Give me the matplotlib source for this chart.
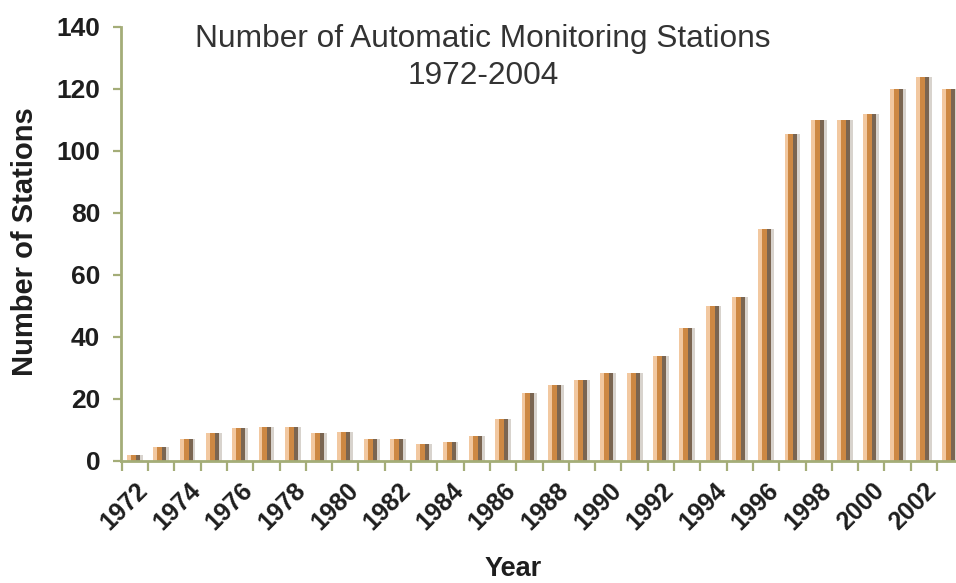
import numpy as np
import matplotlib
matplotlib.use("Agg")
import matplotlib.pyplot as plt
import matplotlib.transforms as mtransforms

plt.rcParams['font.family'] = ['Liberation Sans', 'DejaVu Sans']

# Data
years = np.arange(1972, 2004)
stations = [2, 4.5, 7, 9, 10.5, 11, 11, 9, 9.5, 7, 7, 5.5, 6, 8, 13.5,
            22, 24.5, 26, 28.5, 28.5, 34, 43, 50, 53, 75,
            105.5, 110, 110, 112, 120, 124, 120]
label_years = np.arange(1972, 2004, 2)

spine_col = '#a4ad78'

fig = plt.figure(figsize=(9.56, 5.83), dpi=100)
ax = fig.add_axes([121 / 956, 122 / 583, 835 / 956, 434 / 583])

# each bar is built from thin strips to mimic the shaded look
strips = [(-0.30, 0.15, '#f2c8a0'),
          (-0.15, 0.19, '#cd8843'),
          (0.04, 0.15, '#7a6551'),
          (0.19, 0.11, '#d8d3cd')]
for off, w, col in strips:
    ax.bar(years + off, stations, width=w, align='edge', color=col,
           linewidth=0, zorder=2)

ax.set_xlim(1971.47, 2003.22)
ax.set_ylim(0, 140)
ax.set_yticks(np.arange(0, 141, 20))

ax.set_xticks(label_years)
ax.set_xticklabels([str(y) for y in label_years], rotation=45,
                   ha='right', va='center', rotation_mode='anchor',
                   fontsize=18, fontweight='bold', color='#1e1e1e')
ax.set_xticks(np.arange(1971.5, 2003.5, 1), minor=True)
ax.tick_params(axis='x', which='major', length=0, pad=18.5)
ax.tick_params(axis='x', which='minor', length=7, width=1.6,
               color=spine_col, direction='out')
ax.tick_params(axis='y', length=6, width=1.6, color=spine_col,
               direction='out', pad=9, labelsize=19)
for lab in ax.get_yticklabels():
    lab.set_fontweight('bold')
    lab.set_color('#1e1e1e')

shift = mtransforms.ScaledTranslation(0.09, 0, fig.dpi_scale_trans)
for lab in ax.get_xticklabels():
    lab.set_transform(lab.get_transform() + shift)

for side in ['top', 'right']:
    ax.spines[side].set_visible(False)
for side in ['left', 'bottom']:
    ax.spines[side].set_color(spine_col)
    ax.spines[side].set_linewidth(2)

fig.text(483 / 956, 1 - 39 / 583, 'Number of Automatic Monitoring Stations',
         ha='center', va='center', fontsize=22.8, color='#333333')
fig.text(483 / 956, 1 - 76 / 583, '1972-2004',
         ha='center', va='center', fontsize=22.8, color='#333333')

fig.text(513 / 956, 1 - 576 / 583, 'Year', ha='center', va='baseline',
         fontsize=19.5, fontweight='bold', color='#1e1e1e')
fig.text(25 / 956, 1 - 242 / 583, 'Number of Stations', ha='center',
         va='center', rotation=90, fontsize=21, fontweight='bold',
         color='#1e1e1e')

fig.savefig('out.png', dpi=100)
